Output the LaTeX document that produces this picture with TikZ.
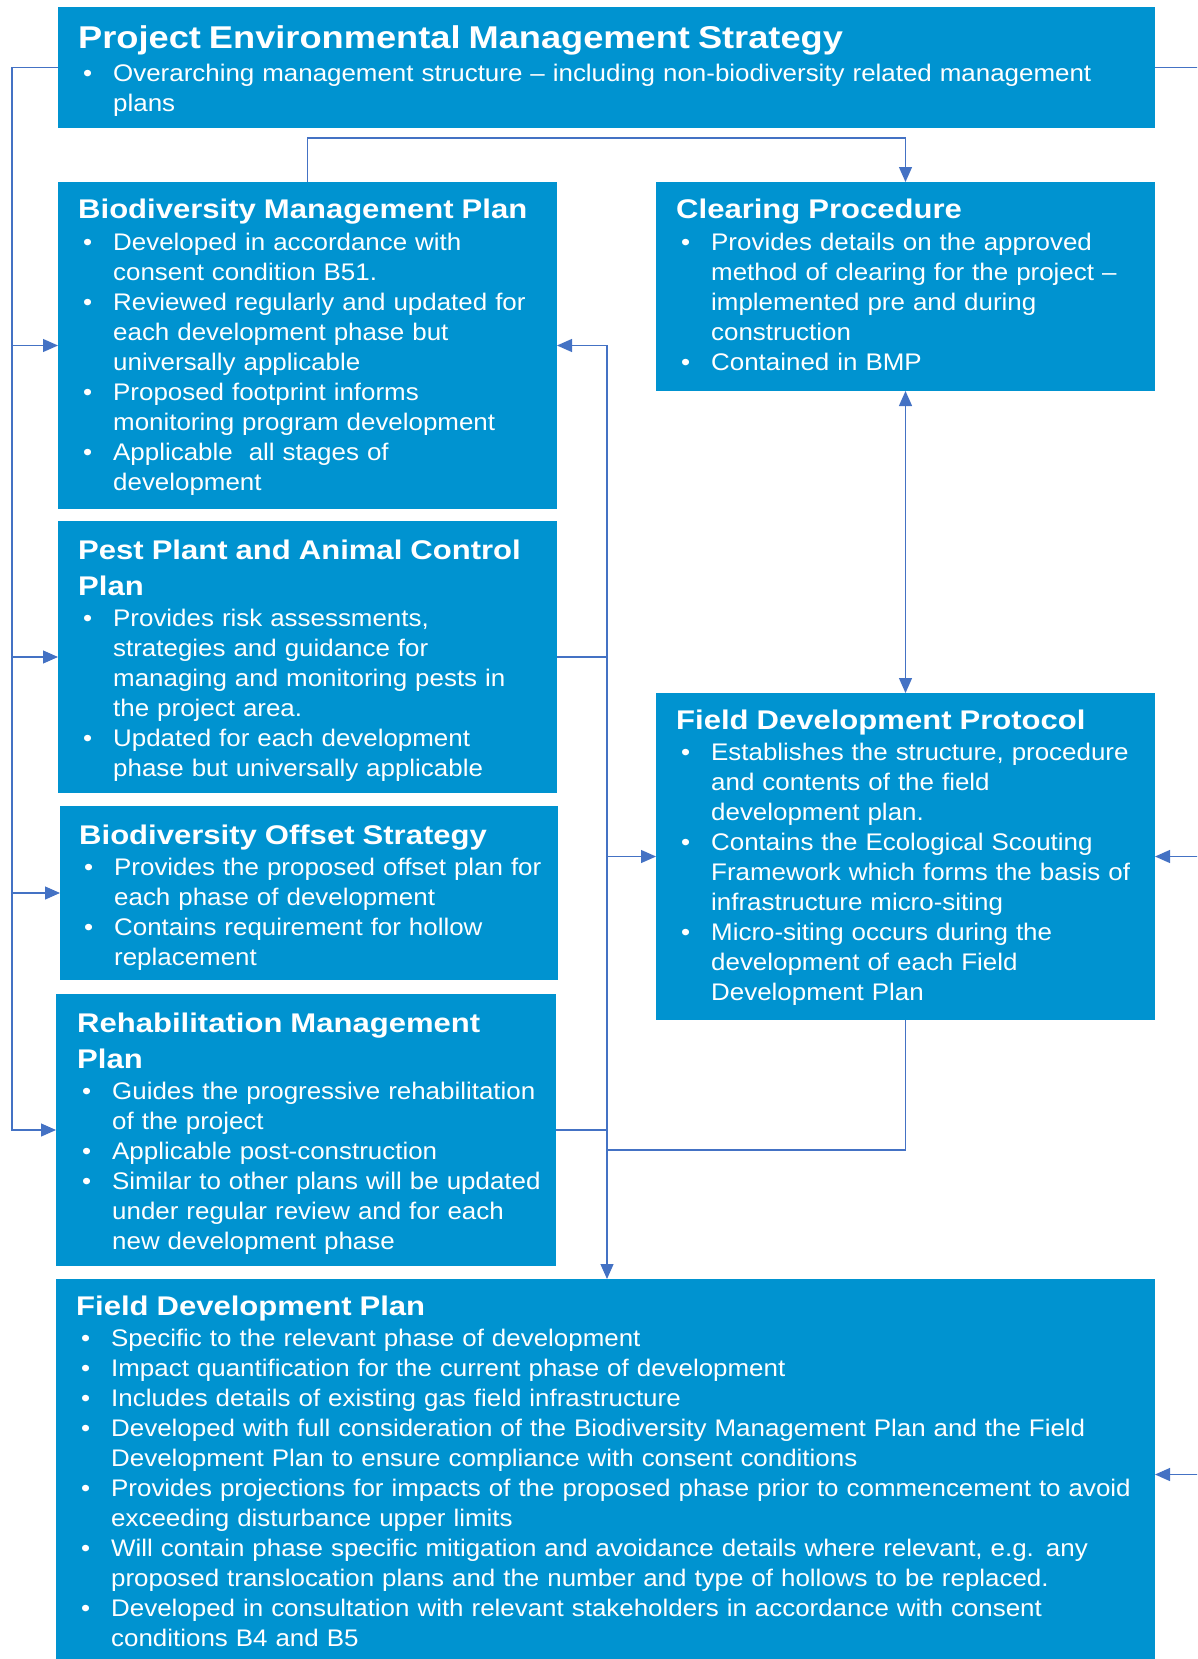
\documentclass[tikz,border=0pt]{standalone}
\usepackage{fontspec}
\setmainfont{Liberation Sans}[FakeStretch=1.08]
\newfontfamily\titlefont{Liberation Sans}[FakeStretch=1.15]
\usetikzlibrary{calc}
\usetikzlibrary{arrows.meta}
\definecolor{planblue}{HTML}{0093D0}
\definecolor{linkblue}{HTML}{4472C4}
\hyphenpenalty=10000
\newenvironment{planlist}{%
  \begin{list}{\hspace*{5pt}\textbullet\hfill}{%
    \setlength{\leftmargin}{35pt}\setlength{\labelwidth}{35pt}%
    \setlength{\labelsep}{0pt}\setlength{\itemindent}{0pt}%
    \setlength{\itemsep}{0pt}\setlength{\parsep}{0pt}%
    \setlength{\topsep}{1.5pt}\setlength{\partopsep}{0pt}}}%
  {\end{list}}
\newcommand{\plantitle}[1]{{\titlefont\fontsize{27}{36}\selectfont\bfseries #1\par}}

\begin{document}
\begin{tikzpicture}[x=1pt,y=-1pt,
  planbox/.style={fill=planblue, inner sep=0pt, outer sep=0pt, anchor=north west},
  plantext/.style={text=white, inner sep=0pt, anchor=base west, align=left,
    text width=#1, font=\fontsize{24}{30}\selectfont},
  link/.style={draw=linkblue, line width=1.2pt},
  tip/.style={-{Triangle[length=15pt,width=13pt]}}]
  \useasboundingbox (0,0) rectangle (1197,1659);
  \clip (0,0) rectangle (1197,1659);

  % boxes
  \node[planbox, minimum width=1097, minimum height=121] (pems) at (58,7) {};
  \node[planbox, minimum width=499, minimum height=327] (bmp) at (58,182) {};
  \node[planbox, minimum width=499, minimum height=209] (clr) at (656,182) {};
  \node[planbox, minimum width=499, minimum height=272] (ppacp) at (58,521) {};
  \node[planbox, minimum width=498, minimum height=174] (bos) at (60,806) {};
  \node[planbox, minimum width=500, minimum height=272] (rmp) at (56,994) {};
  \node[planbox, minimum width=499, minimum height=327] (fdpr) at (656,693) {};
  \node[planbox, minimum width=1099, minimum height=391] (fdp) at (56,1279) {};

  % texts
  \node[plantext=1070pt] (pemstext) at ($(pems.north west)+(20,41.5)$) {%
    {\titlefont\fontsize{31.5}{36}\selectfont\bfseries Project Environmental Management Strategy\par}
    \vspace{2pt}
    \begin{planlist}
    \item Overarching management structure -- including non-biodiversity related management\\plans
    \end{planlist}};
  \node[plantext=470pt] (bmptext) at ($(bmp.north west)+(20,36.5)$) {%
    \plantitle{Biodiversity Management Plan}
    \begin{planlist}
    \item Developed in accordance with\\consent condition B51.
    \item Reviewed regularly and updated for\\each development phase but\\universally applicable
    \item Proposed footprint informs\\monitoring program development
    \item Applicable \ all stages of\\development
    \end{planlist}};
  \node[plantext=470pt] (clrtext) at ($(clr.north west)+(20,36.5)$) {%
    \plantitle{Clearing Procedure}
    \begin{planlist}
    \item Provides details on the approved\\method of clearing for the project --\\implemented pre and during\\construction
    \item Contained in BMP
    \end{planlist}};
  \node[plantext=470pt] (ppacptext) at ($(ppacp.north west)+(20,38)$) {%
    \plantitle{Pest Plant and Animal Control\\Plan}
    \begin{planlist}
    \item Provides risk assessments,\\strategies and guidance for\\managing and monitoring pests in\\the project area.
    \item Updated for each development\\phase but universally applicable
    \end{planlist}};
  \node[plantext=470pt] (bostext) at ($(bos.north west)+(19,38)$) {%
    \plantitle{Biodiversity Offset Strategy}
    \begin{planlist}
    \item Provides the proposed offset plan for\\each phase of development
    \item Contains requirement for hollow\\replacement
    \end{planlist}};
  \node[plantext=470pt] (rmptext) at ($(rmp.north west)+(21,38)$) {%
    \plantitle{Rehabilitation Management\\Plan}
    \begin{planlist}
    \item Guides the progressive rehabilitation\\of the project
    \item Applicable post-construction
    \item Similar to other plans will be updated\\under regular review and for each\\new development phase
    \end{planlist}};
  \node[plantext=470pt] (fdprtext) at ($(fdpr.north west)+(20,36)$) {%
    \plantitle{Field Development Protocol}
    \begin{planlist}
    \item Establishes the structure, procedure\\and contents of the field\\development plan.
    \item Contains the Ecological Scouting\\Framework which forms the basis of\\infrastructure micro-siting
    \item Micro-siting occurs during the\\development of each Field\\Development Plan
    \end{planlist}};
  \node[plantext=1070pt] (fdptext) at ($(fdp.north west)+(20,36)$) {%
    \plantitle{Field Development Plan}
    \begin{planlist}
    \item Specific to the relevant phase of development
    \item Impact quantification for the current phase of development
    \item Includes details of existing gas field infrastructure
    \item Developed with full consideration of the Biodiversity Management Plan and the Field\\Development Plan to ensure compliance with consent conditions
    \item Provides projections for impacts of the proposed phase prior to commencement to avoid\\exceeding disturbance upper limits
    \item Will contain phase specific mitigation and avoidance details where relevant, e.g. any\\proposed translocation plans and the number and type of hollows to be replaced.
    \item Developed in consultation with relevant stakeholders in accordance with consent\\conditions B4 and B5
    \end{planlist}};

  % trunks
  \coordinate (ltrunk) at (12,0);
  \coordinate (rtrunk) at (607,0);
  \coordinate (xtrunk) at (1230,0);
  \coordinate (fjoin) at (607,1150);

  % left trunk to the plans
  \draw[link, tip] (pems.west) -- (pems.west -| ltrunk) |- (rmp.west);
  \draw[link, tip] (ltrunk |- bmp.west) -- (bmp.west);
  \draw[link, tip] (ltrunk |- ppacp.west) -- (ppacp.west);
  \draw[link, tip] (ltrunk |- bos.west) -- (bos.west);

  % plans to field development
  \draw[link, tip] (bmp.north) -- ++(0,-44) -| (clr.north);
  \draw[link, {Triangle[length=15pt,width=13pt]}-{Triangle[length=15pt,width=13pt]}] (clr.south) -- (fdpr.north);
  \draw[link, {Triangle[length=15pt,width=13pt]}-{Triangle[length=15pt,width=13pt]}] (bmp.east) -| (rtrunk |- fdp.north);
  \draw[link] (ppacp.east) -- (ppacp.east -| rtrunk);
  \draw[link] (rmp.east) -- (rmp.east -| rtrunk);
  \draw[link, tip] (rtrunk |- fdpr.west) -- (fdpr.west);
  \draw[link] (fdpr.south) |- (fjoin);

  % right trunk
  \draw[link] (pems.east) -- (pems.east -| xtrunk) -- (fdp.east -| xtrunk);
  \draw[link, tip] (xtrunk |- fdpr.east) -- (fdpr.east);
  \draw[link, tip] (xtrunk |- fdp.east) -- (fdp.east);
\end{tikzpicture}
\end{document}
